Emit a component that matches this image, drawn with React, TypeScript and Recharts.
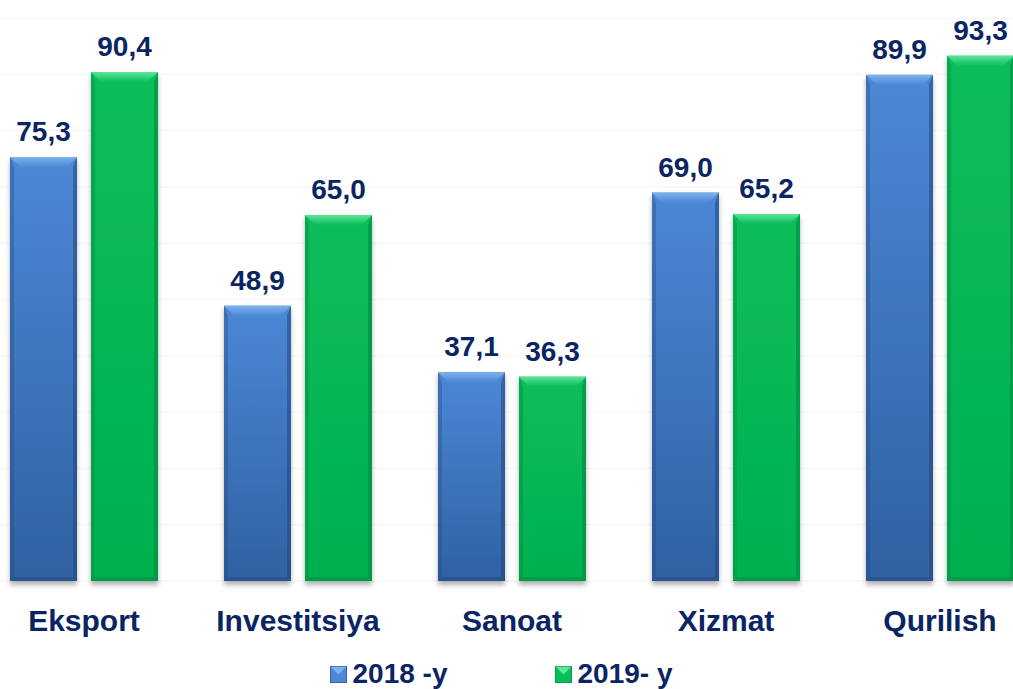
import React from 'react'
import { BarChart, Bar, XAxis, YAxis, CartesianGrid, LabelList, Legend } from 'recharts'

const categories = ['Eksport', 'Investitsiya', 'Sanoat', 'Xizmat', 'Qurilish']
const values2018 = [75.3, 48.9, 37.1, 69.0, 89.9]
const values2019 = [90.4, 65.0, 36.3, 65.2, 93.3]
const seriesNames = ['2018 -y', '2019- y']
const yTicks = [0, 10, 20, 30, 40, 50, 60, 70, 80, 90, 100]

const data = categories.map((name, i) => ({
  name,
  y2018: values2018[i],
  y2019: values2019[i],
}))

const FONT = '"Liberation Sans", Arial, Helvetica, sans-serif'
const NAVY = '#0b2462'

const palettes = {
  blue: { top: '#4c88d6', bottom: '#3061a2', bevel: '#7fb2ee', edge: '#21477c', id: 'blue' },
  green: { top: '#08bd5a', bottom: '#05b050', bevel: '#5ee597', edge: '#03863b', id: 'green' },
}

function bevelShape(pal: typeof palettes.blue) {
  return (props: any) => {
    const { x, y, width: w, height: h } = props
    if (!h || h <= 0) return <g />
    const b = Math.min(10, h / 2)
    const s = 4
    return (
      <g filter="url(#barShadow)">
        <rect x={x} y={y} width={w} height={h} fill={`url(#grad-${pal.id})`} />
        {/* left / right edges */}
        <polygon points={`${x},${y} ${x + s},${y + b} ${x + s},${y + h - s} ${x},${y + h}`} fill={pal.edge} opacity={0.35} />
        <polygon points={`${x + w},${y} ${x + w - s},${y + b} ${x + w - s},${y + h - s} ${x + w},${y + h}`} fill={pal.edge} opacity={0.55} />
        {/* bottom edge */}
        <polygon points={`${x},${y + h} ${x + s},${y + h - s} ${x + w - s},${y + h - s} ${x + w},${y + h}`} fill={pal.edge} opacity={0.5} />
        {/* top bevel */}
        <polygon points={`${x},${y} ${x + w},${y} ${x + w - b},${y + b} ${x + b},${y + b}`} fill={`url(#bevel-${pal.id})`} />
      </g>
    )
  }
}

function CategoryTick(props: any) {
  const { x, y, payload } = props
  return (
    <text x={x} y={y + 42} textAnchor="middle" fontFamily={FONT} fontWeight="bold" fontSize={30} fill={NAVY}>
      {payload.value}
    </text>
  )
}

function LegendContent() {
  const items = [
    { name: seriesNames[0], pal: palettes.blue },
    { name: seriesNames[1], pal: palettes.green },
  ]
  return (
    <div style={{ display: 'flex', justifyContent: 'center', gap: 107, paddingRight: 22, marginTop: 10, fontFamily: FONT }}>
      {items.map((it) => (
        <div key={it.name} style={{ display: 'flex', alignItems: 'center', gap: 6 }}>
          <svg width={17} height={17}>
            <rect x={0} y={0} width={17} height={17} fill={it.pal.top} />
            <polygon points="0,0 17,0 8.5,8.5" fill={it.pal.bevel} />
            <rect x={0} y={0} width={17} height={17} fill="none" stroke={it.pal.edge} strokeWidth={1} />
          </svg>
          <span style={{ fontSize: 28, fontWeight: 'bold', color: NAVY, lineHeight: '30px' }}>{it.name}</span>
        </div>
      ))}
    </div>
  )
}

const fmt = (v: any) => Number(v).toFixed(1).replace('.', ',')

export default function App() {
  return (
    <div style={{ position: 'absolute', left: 0, top: 0, width: 1013, height: 689, overflow: 'hidden', background: '#fff' }}>
      <div style={{ position: 'absolute', left: -23, top: 0 }}>
        <BarChart
          width={1070}
          height={689}
          data={data}
          margin={{ top: 18, right: 0, left: 0, bottom: 0 }}
          barSize={67}
          barGap={14}
        >
          <defs>
            {Object.values(palettes).map((p) => (
              <React.Fragment key={p.id}>
                <linearGradient id={`grad-${p.id}`} x1="0" y1="0" x2="0" y2="1">
                  <stop offset="0%" stopColor={p.top} />
                  <stop offset="100%" stopColor={p.bottom} />
                </linearGradient>
                <linearGradient id={`bevel-${p.id}`} x1="0" y1="0" x2="0" y2="1">
                  <stop offset="0%" stopColor={p.bevel} />
                  <stop offset="100%" stopColor={p.top} />
                </linearGradient>
              </React.Fragment>
            ))}
            <filter id="barShadow" x="-20%" y="-10%" width="140%" height="120%">
              <feDropShadow dx="0" dy="4" stdDeviation="2.5" floodColor="#000" floodOpacity="0.3" />
            </filter>
          </defs>
          <CartesianGrid vertical={false} stroke="#f4f4f4" />
          <XAxis dataKey="name" axisLine={false} tickLine={false} height={68} tick={<CategoryTick />} interval={0} />
          <YAxis hide domain={[0, 100]} ticks={yTicks} />
          <Legend verticalAlign="bottom" height={40} content={<LegendContent />} />
          <Bar dataKey="y2018" name={seriesNames[0]} shape={bevelShape(palettes.blue)} isAnimationActive={false}>
            <LabelList dataKey="y2018" position="top" offset={16} formatter={fmt} fill={NAVY} fontSize={28} fontWeight="bold" fontFamily={FONT} />
          </Bar>
          <Bar dataKey="y2019" name={seriesNames[1]} shape={bevelShape(palettes.green)} isAnimationActive={false}>
            <LabelList dataKey="y2019" position="top" offset={16} formatter={fmt} fill={NAVY} fontSize={28} fontWeight="bold" fontFamily={FONT} />
          </Bar>
        </BarChart>
      </div>
    </div>
  )
}
